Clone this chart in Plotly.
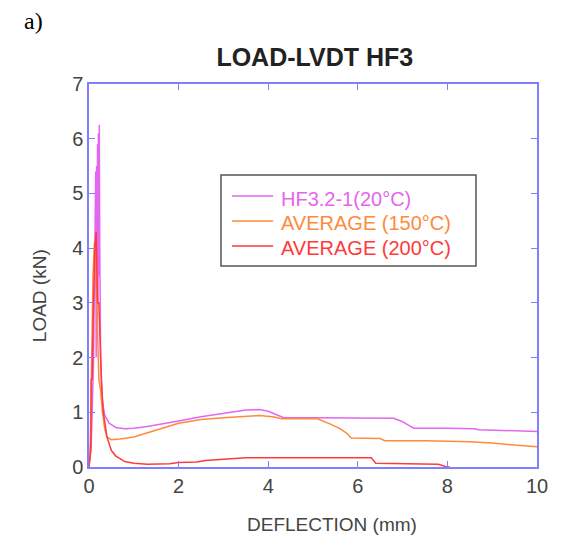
import plotly.graph_objects as go

# Data
hf20_x = [0, 0.05, 0.1, 0.13, 0.15, 0.16, 0.17, 0.18, 0.19, 0.2, 0.21, 0.22, 0.23, 0.24, 0.26, 0.3, 0.35, 0.45,
          0.6, 0.8, 1.0, 1.3, 1.6, 2.0, 2.5, 3.0, 3.5, 3.8, 4.0, 4.2, 4.35, 5.0, 6.0, 6.8, 6.9, 7.0, 7.1, 7.25,
          8.0, 8.6, 8.7, 9.0, 9.5, 10.0]
hf20_y = [0, 0.4, 1.9, 4.0, 5.4, 2.0, 5.5, 2.5, 5.9, 3.0, 6.1, 3.5, 6.25, 4.0, 2.0, 1.2, 0.95, 0.8,
          0.72, 0.70, 0.71, 0.74, 0.78, 0.84, 0.92, 0.98, 1.04, 1.05, 1.02, 0.95, 0.90, 0.90, 0.89, 0.89, 0.86,
          0.83, 0.78, 0.71, 0.71, 0.70, 0.68, 0.67, 0.66, 0.65]

avg150_x = [0, 0.03, 0.06, 0.09, 0.12, 0.15, 0.18, 0.22, 0.26, 0.3, 0.35, 0.4, 0.5, 0.7, 1.0, 1.3, 1.6, 2.0,
            2.5, 3.0, 3.5, 3.8, 4.1, 4.3, 5.1, 5.2, 5.4, 5.6, 5.75, 5.85, 6.5, 6.6, 7.5, 8.5, 9.0, 9.5, 10.0]
avg150_y = [0, 0.5, 2.0, 3.5, 4.1, 4.0, 2.8, 1.6, 1.4, 1.0, 0.7, 0.55, 0.5, 0.51, 0.55, 0.62, 0.70, 0.80,
            0.87, 0.90, 0.93, 0.94, 0.92, 0.88, 0.88, 0.85, 0.78, 0.70, 0.62, 0.53, 0.52, 0.48, 0.48, 0.46,
            0.44, 0.40, 0.37]

avg200_x = [0, 0.04, 0.05, 0.07, 0.1, 0.13, 0.16, 0.19, 0.22, 0.25, 0.28, 0.32, 0.4, 0.5, 0.6, 0.8, 1.0, 1.3,
            1.8, 2.0, 2.4, 2.6, 3.0, 3.5, 4.5, 6.3, 6.4, 7.5, 7.8, 7.95, 8.05]
avg200_y = [0, 0.3, 1.6, 1.6, 3.0, 4.0, 4.3, 3.0, 3.0, 2.0, 1.5, 1.0, 0.55, 0.3, 0.2, 0.1, 0.07, 0.05,
            0.06, 0.08, 0.09, 0.12, 0.14, 0.17, 0.17, 0.17, 0.07, 0.06, 0.05, 0.01, 0]

names = ["HF3.2-1(20°C)", "AVERAGE (150°C)", "AVERAGE (200°C)"]
colors = ["#e466ee", "#ff8a3c", "#ff3a3a"]
x_ticks = [0, 2, 4, 6, 8, 10]
y_ticks = [0, 1, 2, 3, 4, 5, 6, 7]

fig = go.Figure()
for xs, ys, nm, c in zip([hf20_x, avg150_x, avg200_x], [hf20_y, avg150_y, avg200_y], names, colors):
    fig.add_trace(go.Scatter(x=xs, y=ys, mode="lines", line=dict(color=c, width=1.5),
                             name=nm, showlegend=False))

# Hand-built legend box (paper coordinates)
leg_x0, leg_x1, leg_y0, leg_y1 = 0.2946, 0.8638, 0.5248, 0.7624
line_x0, line_x1, text_x = 0.319, 0.411, 0.424
line_ys = [0.7076, 0.6423, 0.577]
text_ys = [0.6997, 0.6371, 0.5718]

shapes = [dict(type="rect", xref="paper", yref="paper", x0=leg_x0, x1=leg_x1, y0=leg_y0, y1=leg_y1,
               line=dict(color="#555555", width=1.5), fillcolor="white", layer="above")]
annotations = []
for nm, c, ly, ty in zip(names, colors, line_ys, text_ys):
    shapes.append(dict(type="line", xref="paper", yref="paper", x0=line_x0, x1=line_x1, y0=ly, y1=ly,
                       line=dict(color=c, width=1.5), layer="above"))
    annotations.append(dict(text=nm, xref="paper", yref="paper", x=text_x, y=ty, xanchor="left",
                            yanchor="middle", showarrow=False, font=dict(size=20, color=c)))

annotations += [
    dict(text="a)", xref="paper", yref="paper", x=-0.1496, y=1.2037, xanchor="left",
         yanchor="top", showarrow=False,
         font=dict(family="Liberation Serif, Times New Roman, serif", size=24, color="black")),
    dict(text="DEFLECTION (mm)", xref="paper", yref="paper", x=0.542, y=-0.15,
         xanchor="center", yanchor="middle", showarrow=False, font=dict(size=19, color="#444444")),
    dict(text="LOAD (kN)", xref="paper", yref="paper", x=-0.109, y=0.4465, textangle=-90,
         xanchor="center", yanchor="middle", showarrow=False, font=dict(size=19, color="#444444")),
]

axis_blue = "#8080ff"
fig.update_layout(
    width=558, height=534,
    margin=dict(l=81, r=29, t=76, b=75, autoexpand=False),
    paper_bgcolor="white", plot_bgcolor="white",
    font=dict(family="Liberation Sans, Arial, sans-serif", size=19, color="#444444"),
    title=dict(text="<b>LOAD-LVDT HF3</b>", xref="paper", x=0.504, xanchor="center",
               yref="container", y=1 - 49 / 534, yanchor="middle",
               font=dict(size=25, color="#222222")),
    showlegend=False,
    xaxis=dict(range=[0, 10], tickvals=x_ticks, ticks="inside", ticklen=6, tickcolor=axis_blue,
               showline=True, linecolor=axis_blue, linewidth=1.5, mirror="ticks", showgrid=False,
               zeroline=False, automargin=False, tickfont=dict(size=20)),
    yaxis=dict(range=[0, 7], tickvals=y_ticks, ticks="inside", ticklen=6, tickcolor=axis_blue,
               showline=True, linecolor=axis_blue, linewidth=1.5, mirror="ticks", showgrid=False,
               zeroline=False, automargin=False, tickfont=dict(size=20)),
    shapes=shapes,
    annotations=annotations,
)

fig.write_html("out.html")
